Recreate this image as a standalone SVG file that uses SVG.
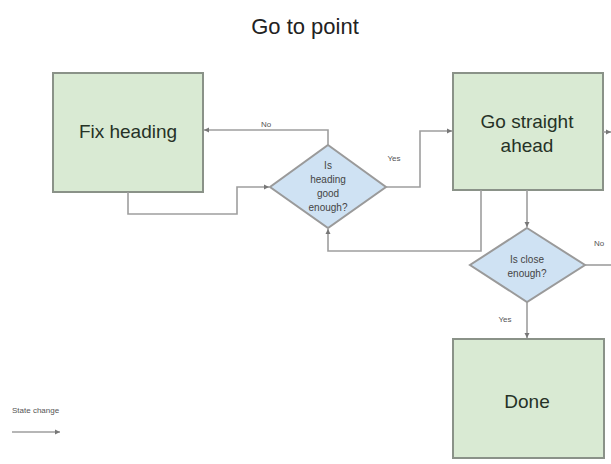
<svg xmlns="http://www.w3.org/2000/svg" width="611" height="464" viewBox="0 0 611 464">
<style>
.box{fill:#d9ead3;stroke:#8a9288;stroke-width:2}
.dia{fill:#cfe2f3;stroke:#9a9a9a;stroke-width:2}
.bt{font-family:"Liberation Sans",Arial,sans-serif;font-size:19px;fill:#263226;text-anchor:middle}
.dt{font-family:"Liberation Sans",Arial,sans-serif;font-size:10px;fill:#444;text-anchor:middle}
.lbl{font-family:"Liberation Sans",Arial,sans-serif;font-size:8px;fill:#555;text-anchor:middle}
.lgd{font-family:"Liberation Sans",Arial,sans-serif;font-size:8px;fill:#555;text-anchor:start}
.c{fill:none;stroke:#9e9e9e;stroke-width:1.6}
</style>
<defs>
<marker id="ah" markerWidth="6" markerHeight="6" refX="5" refY="3" orient="auto" markerUnits="userSpaceOnUse">
<path d="M0,0.5 L5,3 L0,5.5 z" fill="#777"/>
</marker>
</defs>
<rect width="611" height="464" fill="#ffffff"/>
<text x="305" y="34" font-family="'Liberation Sans',Arial,sans-serif" font-size="22" fill="#222" text-anchor="middle">Go to point</text>

<g id="fix-heading">
<rect class="box" x="53" y="73" width="150" height="119"/>
<text class="bt" x="128" y="138">Fix heading</text>
</g>
<g id="go-straight">
<rect class="box" x="453" y="73" width="150" height="117"/>
<text class="bt" x="527" y="128">Go straight</text>
<text class="bt" x="527" y="152">ahead</text>
</g>
<g id="heading-check">
<polygon class="dia" points="328,145 386,187 328,228 270,187"/>
<text class="dt" x="328" y="169">Is</text>
<text class="dt" x="328" y="183">heading</text>
<text class="dt" x="328" y="197">good</text>
<text class="dt" x="328" y="211">enough?</text>
</g>
<g id="close-check">
<polygon class="dia" points="527,228 585,265 527,302 470,265"/>
<text class="dt" x="527" y="263">Is close</text>
<text class="dt" x="527" y="277">enough?</text>
</g>
<g id="done">
<rect class="box" x="453" y="339" width="151" height="119"/>
<text class="bt" x="527" y="408">Done</text>
</g>

<g id="connectors">
<polyline class="c" points="328,145 328,130 204,130" marker-end="url(#ah)"/>
<polyline class="c" points="128,192 128,214 237,214 237,187 269,187" marker-end="url(#ah)"/>
<polyline class="c" points="386,187 420,187 420,131 452,131" marker-end="url(#ah)"/>
<polyline class="c" points="481,190 481,251 328,251 328,229" marker-end="url(#ah)"/>
<line class="c" x1="603" y1="132" x2="611" y2="132" marker-end="url(#ah)"/>
<line class="c" x1="527" y1="190" x2="527" y2="227" marker-end="url(#ah)"/>
<line class="c" x1="585" y1="265" x2="611" y2="265"/>
<line class="c" x1="527" y1="302" x2="527" y2="338" marker-end="url(#ah)"/>
<line class="c" x1="12" y1="432" x2="60" y2="432" marker-end="url(#ah)"/>
</g>
<g id="labels">
<text class="lbl" x="266" y="127">No</text>
<text class="lbl" x="394" y="161">Yes</text>
<text class="lbl" x="599" y="246">No</text>
<text class="lbl" x="505" y="322">Yes</text>
<text class="lgd" x="12" y="413">State change</text>
</g>
</svg>
